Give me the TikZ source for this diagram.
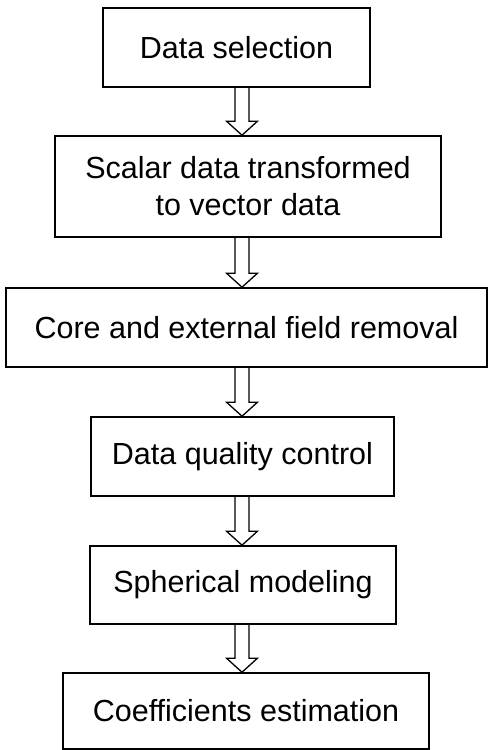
\documentclass[tikz,border=0pt]{standalone}
\usepackage{fontspec}
\setmainfont{Liberation Sans}
\usepackage{tikz}
\usetikzlibrary{calc}

\tikzset{
  stagebox/.style={draw=black, line width=1.6pt, inner sep=0pt, align=center,
    font=\fontsize{30.5}{37}\selectfont},
  hollowarrow/.style={draw=black, line width=1.3pt, line join=miter}
}

\begin{document}
\begin{tikzpicture}[x=1pt, y=1pt]
\useasboundingbox (0,0) rectangle (488,750);

% axis of the flow arrows
\coordinate (spine) at (242,0);

% --- processing stages ---
\node[stagebox, minimum width=267pt, minimum height=79pt] (sel) at (236.5,702.5) {Data selection};
\node[stagebox, minimum width=386pt, minimum height=101pt] (vec) at (248,563.5)
  {Scalar data transformed\\to vector data};
\node[stagebox, minimum width=481pt, minimum height=79pt] (rem) at (246.5,422.5) {Core and external field removal};
\node[stagebox, minimum width=303pt, minimum height=79pt] (qc) at (242.5,293.5) {Data quality control};
\node[stagebox, minimum width=306pt, minimum height=78pt] (sph) at (243,165) {Spherical modeling};
\node[stagebox, minimum width=366pt, minimum height=76pt] (coef) at (246,39) {Coefficients estimation};

% --- hollow arrows between stages ---
\foreach \from/\to in {sel/vec, vec/rem, rem/qc, qc/sph, sph/coef} {
  \draw[hollowarrow] let \p1=(\from.south -| spine), \p2=(\to.north -| spine) in
    (\x1-7pt,\y1) -- (\x1-7pt,\y2+14pt) -- (\x1-15.5pt,\y2+14pt) -- (\x2,\y2)
    -- (\x1+15.5pt,\y2+14pt) -- (\x1+7pt,\y2+14pt) -- (\x1+7pt,\y1);
}

\end{tikzpicture}
\end{document}
